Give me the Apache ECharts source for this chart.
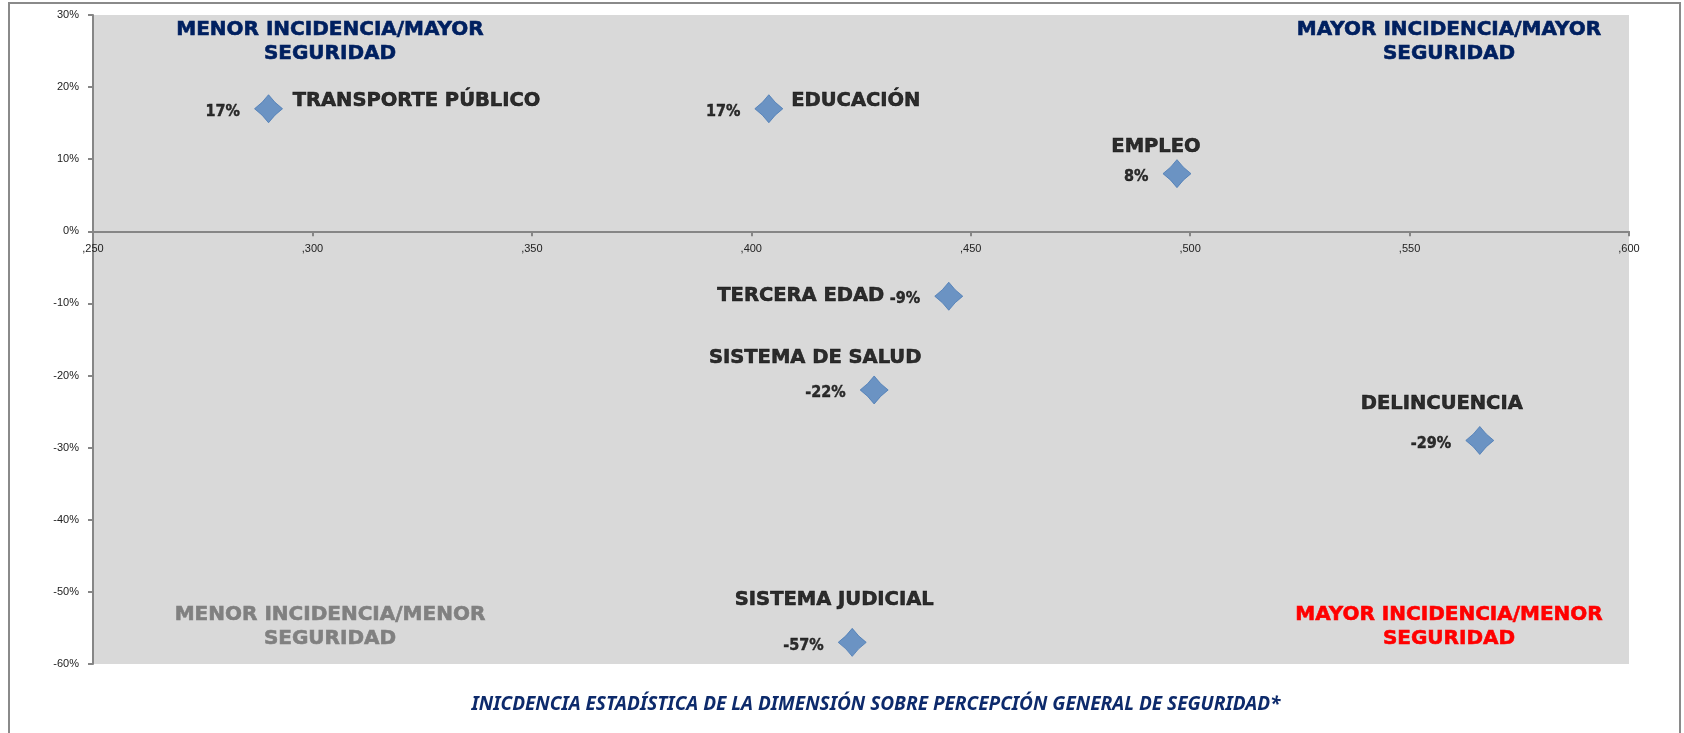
<!DOCTYPE html>
<html>
<head>
<meta charset="utf-8">
<script src="https://cdn.jsdelivr.net/npm/echarts@6/dist/echarts.min.js"></script>
<style>
html,body{margin:0;padding:0;background:#fff;}
#chart{width:1684px;height:733px;}
</style>
</head>
<body>
<div id="chart"></div>
<script>
// ---- data ----
var dimensions = ['TRANSPORTE PÚBLICO', 'EDUCACIÓN', 'EMPLEO', 'TERCERA EDAD', 'SISTEMA DE SALUD', 'DELINCUENCIA', 'SISTEMA JUDICIAL'];
var incidencia = [0.290, 0.404, 0.497, 0.445, 0.428, 0.566, 0.423];
var seguridad = [17, 17, 8, -9, -22, -29, -57];
var xTicks = [0.25, 0.30, 0.35, 0.40, 0.45, 0.50, 0.55, 0.60];
var yTicks = [-60, -50, -40, -30, -20, -10, 0, 10, 20, 30];
var quadrantTitles = ['MENOR INCIDENCIA/MAYOR\nSEGURIDAD', 'MAYOR INCIDENCIA/MAYOR\nSEGURIDAD', 'MENOR INCIDENCIA/MENOR\nSEGURIDAD', 'MAYOR INCIDENCIA/MENOR\nSEGURIDAD'];
var xTitle = 'INICDENCIA ESTADÍSTICA DE LA DIMENSIÓN SOBRE PERCEPCIÓN GENERAL DE SEGURIDAD*';

// ---- label placement (style, not data) ----
var nameOffsets = [[148, -8], [87, -8], [-21, -27], [-148, 0], [-59, -32], [-38, -37], [-18, -42]];

var W = 1684, H = 733;
var G = { left: 93, right: 55, top: 15, bottom: 69 };
var plotH = H - G.top - G.bottom;
var yMin = yTicks[0], yMax = yTicks[yTicks.length - 1];
// place the x axis (line, ticks, labels) at y = 0 of the value scale
var xAxisOffset = -plotH * (0 - yMin) / (yMax - yMin);

var FONT = '"DejaVu Sans", sans-serif';
var FONT_C = '"DejaVu Sans Condensed", "DejaVu Sans", sans-serif';
var diamond = 'path://M0,-1 Q0.42,-0.42 1,0 Q0.42,0.42 0,1 Q-0.42,0.42 -1,0 Q-0.42,-0.42 0,-1 Z';

var pointData = dimensions.map(function (n, i) { return { name: n, value: [incidencia[i], seguridad[i]] }; });
var nameData = dimensions.map(function (n, i) {
  return { name: n, value: [incidencia[i], seguridad[i]], label: { offset: nameOffsets[i] } };
});

var chart = echarts.init(document.getElementById('chart'), null, { renderer: 'canvas' });
var qColors = ['#002060', '#002060', '#808080', '#ff0000'];
var qPos = [[330, 18], [1449, 18], [330, 603], [1449, 603]];

chart.setOption({
  animation: false,
  backgroundColor: '#ffffff',
  grid: { left: G.left, right: G.right, top: G.top, bottom: G.bottom, show: true, backgroundColor: '#d9d9d9', borderWidth: 0, containLabel: false },
  xAxis: {
    type: 'value', min: xTicks[0], max: xTicks[xTicks.length - 1], interval: 0.05,
    position: 'bottom', offset: xAxisOffset,
    axisLine: { onZero: false, lineStyle: { color: '#868686', width: 2 } },
    axisTick: { show: true, inside: false, length: 5, lineStyle: { color: '#868686', width: 2 } },
    splitLine: { show: false },
    axisLabel: {
      color: '#222', fontSize: 11, fontFamily: '"Liberation Sans", Arial, sans-serif', margin: 12,
      formatter: function (v) { return ',' + v.toFixed(3).split('.')[1]; }
    }
  },
  yAxis: {
    type: 'value', min: yMin, max: yMax, interval: 10,
    axisLine: { onZero: false, lineStyle: { color: '#868686', width: 2 } },
    axisTick: { show: true, length: 5, lineStyle: { color: '#868686', width: 2 } },
    splitLine: { show: false },
    axisLabel: { color: '#222', fontSize: 11, fontFamily: '"Liberation Sans", Arial, sans-serif', margin: 14, formatter: '{value}%' }
  },
  series: [
    {
      type: 'scatter', data: pointData, symbol: diamond, symbolSize: 28,
      itemStyle: { color: '#4f81bd', borderColor: '#4a7ab5', borderWidth: 1 },
      label: {
        show: true, position: 'left', distance: 14, offset: [0, 3],
        formatter: function (p) { return p.value[1] + '%'; },
        color: '#000', fontSize: 16, fontWeight: 'bold', fontFamily: FONT_C,
        textBorderColor: '#000', textBorderWidth: 0.4
      },
      z: 3
    },
    {
      type: 'scatter', data: nameData, symbol: 'circle', symbolSize: 2,
      itemStyle: { color: 'rgba(0,0,0,0)' },
      label: {
        show: true, position: 'inside', align: 'center', verticalAlign: 'middle',
        formatter: '{b}', color: '#000', fontSize: 19.5, fontWeight: 'bold', fontFamily: FONT,
        textBorderColor: '#000', textBorderWidth: 0.6
      },
      silent: true, z: 4
    }
  ],
  graphic: [
    { type: 'rect', shape: { x: 9, y: 3, width: 1671, height: 760 }, style: { fill: 'none', stroke: '#8a8a8a', lineWidth: 2 }, z: 10, silent: true }
  ].concat(quadrantTitles.map(function (t, i) {
    return {
      type: 'text', x: qPos[i][0], y: qPos[i][1], z: 10,
      style: { text: t, fill: qColors[i], stroke: qColors[i], lineWidth: 0.6, font: 'bold 20px ' + FONT, textAlign: 'center', textVerticalAlign: 'top', lineHeight: 24 }
    };
  })).concat([
    { type: 'text', x: 876, y: 705, z: 10,
      style: { text: xTitle, fill: '#0d2a6b', font: 'italic bold 19px "Noto Sans", "Open Sans", sans-serif', textAlign: 'center', textVerticalAlign: 'middle' } }
  ])
});
</script>
</body>
</html>
